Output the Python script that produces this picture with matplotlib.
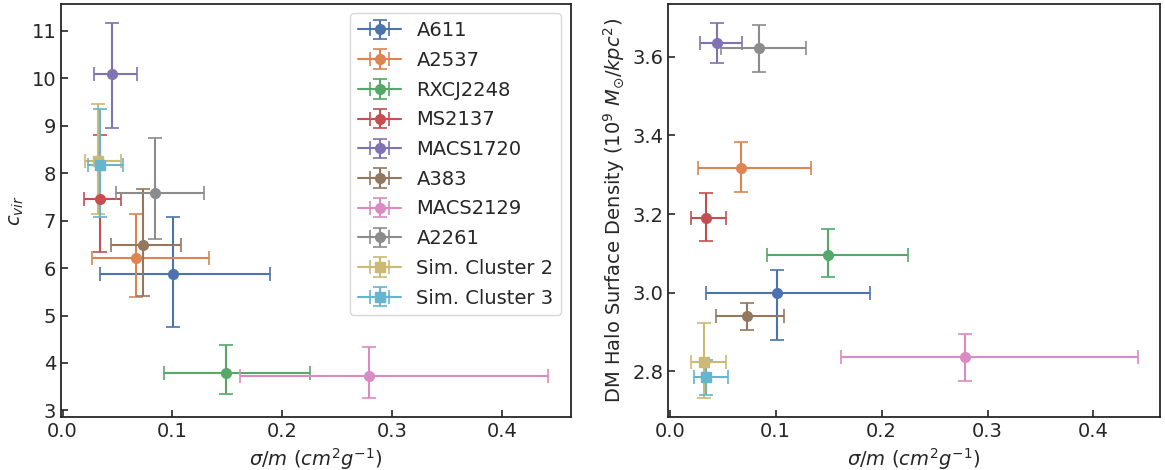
import matplotlib
matplotlib.use("Agg")
import matplotlib.pyplot as plt
import seaborn as sns
import numpy as np

names = ["A611", "A2537", "RXCJ2248", "MS2137", "MACS1720", "A383",
         "MACS2129", "A2261", "Sim. Cluster 2", "Sim. Cluster 3"]
markers = ["o", "o", "o", "o", "o", "o", "o", "o", "s", "s"]

# sigma/m and its error range
sig = [0.101, 0.067, 0.149, 0.034, 0.045, 0.073, 0.279, 0.084, 0.032, 0.034]
sig_lo = [0.0345, 0.0264, 0.092, 0.0197, 0.029, 0.044, 0.162, 0.0485, 0.0203, 0.0234]
sig_hi = [0.189, 0.133, 0.225, 0.053, 0.068, 0.108, 0.442, 0.129, 0.0536, 0.0548]

# concentration
cvir = [5.87, 6.21, 3.79, 7.46, 10.10, 6.48, 3.72, 7.59, 8.25, 8.17]
cvir_lo = [4.76, 5.40, 3.34, 6.33, 8.95, 5.42, 3.26, 6.61, 7.14, 7.08]
cvir_hi = [7.08, 7.15, 4.38, 8.81, 11.175, 7.67, 4.33, 8.74, 9.45, 9.36]

# DM halo surface density
dens = [3.000, 3.318, 3.095, 3.190, 3.636, 2.940, 2.837, 3.621, 2.823, 2.786]
dens_lo = [2.879, 3.255, 3.041, 3.131, 3.583, 2.906, 2.776, 3.560, 2.732, 2.741]
dens_hi = [3.057, 3.383, 3.161, 3.253, 3.687, 2.973, 2.895, 3.682, 2.922, 2.830]

sns.set_style("ticks")
plt.rcParams['font.family'] = ['DejaVu Sans']
plt.rcParams['xtick.direction'] = 'in'
plt.rcParams['ytick.direction'] = 'in'

colors = sns.color_palette("deep", 10)

fig = plt.figure(figsize=(11.65, 4.70), dpi=100)
ax1 = fig.add_axes([0.0524, 0.113, 0.4378, 0.879])
ax2 = fig.add_axes([0.5735, 0.113, 0.4225, 0.879])

for i, n in enumerate(names):
    xe = [[sig[i] - sig_lo[i]], [sig_hi[i] - sig[i]]]
    ye1 = [[cvir[i] - cvir_lo[i]], [cvir_hi[i] - cvir[i]]]
    ye2 = [[dens[i] - dens_lo[i]], [dens_hi[i] - dens[i]]]
    kw = dict(marker=markers[i], linestyle='-', color=colors[i], ms=7, capsize=5,
              elinewidth=1.5, capthick=1.2, lw=1.5)
    ax1.errorbar([sig[i]], [cvir[i]], xerr=xe, yerr=ye1, label=n, **kw)
    ax2.errorbar([sig[i]], [dens[i]], xerr=xe, yerr=ye2, **kw)

for ax in (ax1, ax2):
    ax.tick_params(labelsize=14, length=5, width=1.2)
    ax.set_xlabel(r"$\sigma/m\ (cm^2 g^{-1})$", fontsize=14)
    for s in ax.spines.values():
        s.set_linewidth(1.3)
        s.set_color("#262626")
    ax.set_xticks([0.0, 0.1, 0.2, 0.3, 0.4])

ax1.set_ylabel(r"$c_{vir}$", fontsize=14)
ax2.set_ylabel(r"DM Halo Surface Density ($10^9\ M_{\odot}/kpc^2$)", fontsize=14)
ax1.legend(loc="upper right", fontsize=14, handlelength=2.2, handletextpad=0.8,
           borderaxespad=0.5, labelspacing=0.55)

fig.savefig("out.png", dpi=100)
